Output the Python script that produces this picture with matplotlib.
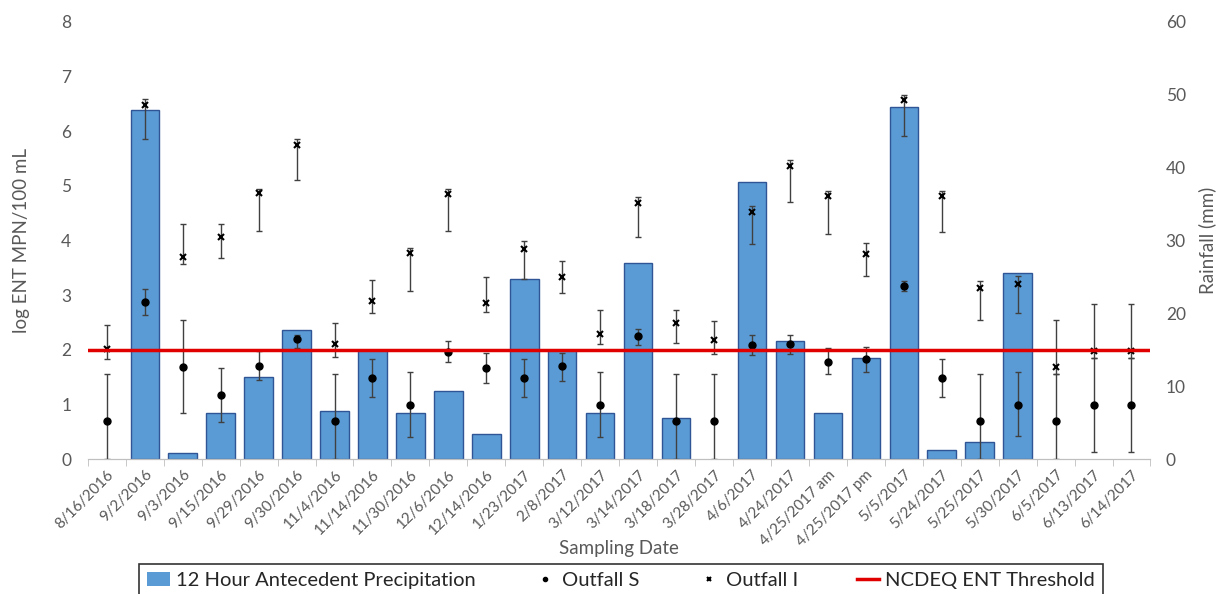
import matplotlib
matplotlib.use("Agg")
import matplotlib.pyplot as plt
import numpy as np
from matplotlib.ticker import FixedLocator

plt.rcParams["font.family"] = ["Lato", "DejaVu Sans"]

dates = ["8/16/2016", "9/2/2016", "9/3/2016", "9/15/2016", "9/29/2016", "9/30/2016",
         "11/4/2016", "11/14/2016", "11/30/2016", "12/6/2016", "12/14/2016", "1/23/2017",
         "2/8/2017", "3/12/2017", "3/14/2017", "3/18/2017", "3/28/2017", "4/6/2017",
         "4/24/2017", "4/25/2017 am", "4/25/2017 pm", "5/5/2017", "5/24/2017", "5/25/2017",
         "5/30/2017", "6/5/2017", "6/13/2017", "6/14/2017"]

# 12 hour antecedent precipitation (mm)
rain = [0, 47.9, 0.9, 6.3, 11.3, 17.7, 6.6, 15.0, 6.3, 9.3, 3.5, 24.7, 15.0, 6.3,
        26.9, 5.6, 0, 38.0, 16.2, 6.3, 13.9, 48.3, 1.2, 2.3, 25.5, 0, 0, 0]

# Outfall S: log ENT, lower / upper bound of error bar
s_val = [0.70, 2.87, 1.68, 1.18, 1.71, 2.20, 0.70, 1.48, 0.99, 1.97, 1.67, 1.48, 1.71, 0.99,
         2.25, 0.70, 0.70, 2.08, 2.11, 1.78, 1.83, 3.17, 1.48, 0.70, 0.99, 0.70, 0.99, 0.99]
s_lo = [0, 2.64, 0.84, 0.68, 1.44, 2.03, 0, 1.14, 0.40, 1.77, 1.39, 1.14, 1.43, 0.40,
        2.09, 0, 0, 1.90, 1.92, 1.55, 1.60, 3.08, 1.14, 0, 0.42, 0, 0.14, 0.14]
s_hi = [1.55, 3.11, 2.55, 1.67, 1.98, 2.28, 1.55, 1.83, 1.60, 2.17, 1.95, 1.83, 1.95, 1.60,
        2.38, 1.55, 1.55, 2.27, 2.27, 2.03, 2.06, 3.26, 1.83, 1.55, 1.60, 1.55, 1.85, 1.85]

# Outfall I
i_val = [2.01, 6.48, 3.70, 4.07, 4.87, 5.74, 2.11, 2.89, 3.77, 4.86, 2.85, 3.84, 3.33, 2.29,
         4.68, 2.50, 2.18, 4.52, 5.37, 4.82, 3.75, 6.57, 4.82, 3.13, 3.20, 1.68, 1.98, 1.98]
i_lo = [1.83, 5.86, 3.57, 3.68, 4.17, 5.11, 1.87, 2.67, 3.08, 4.17, 2.69, 3.29, 3.04, 2.11,
        4.07, 2.13, 1.92, 3.93, 4.70, 4.12, 3.36, 5.91, 4.15, 2.55, 2.68, 1.55, 1.85, 1.85]
i_hi = [2.45, 6.59, 4.30, 4.30, 4.95, 5.86, 2.49, 3.27, 3.86, 4.95, 3.34, 3.99, 3.63, 2.73,
        4.79, 2.73, 2.52, 4.64, 5.48, 4.91, 3.96, 6.67, 4.91, 3.26, 3.35, 2.55, 2.84, 2.84]

threshold = 2.0

GREY = "#595959"
x = np.arange(len(dates))

fig = plt.figure(figsize=(12.2, 5.94), dpi=100)
ax = fig.add_axes([0.072, 0.227, 0.871, 0.736])
ax2 = ax.twinx()
ax.set_zorder(ax2.get_zorder() + 1)
ax.patch.set_visible(False)
ax2.set_facecolor("#E7E6E6")

# no outline on empty (zero rain) bars
edges = ["#2F5597" if r > 0 else "none" for r in rain]
bars = ax2.bar(x, rain, width=0.75, color="#5B9BD5", edgecolor=edges, linewidth=1,
               label="12 Hour Antecedent Precipitation")
ax2.set_ylim(0, 60)
ax2.set_yticks(range(0, 61, 10))

s_err = [np.array(s_val) - np.array(s_lo), np.array(s_hi) - np.array(s_val)]
i_err = [np.array(i_val) - np.array(i_lo), np.array(i_hi) - np.array(i_val)]
ax.errorbar(x, s_val, yerr=s_err, fmt="none", ecolor="#404040", elinewidth=1, capsize=2.5)
ax.errorbar(x, i_val, yerr=i_err, fmt="none", ecolor="#404040", elinewidth=1, capsize=2.5)
hs, = ax.plot(x, s_val, "o", color="black", ms=5, ls="none", label="Outfall S")
hi, = ax.plot(x, i_val, "x", color="black", ms=5, mew=1.5, ls="none", label="Outfall I")
ht = ax.axhline(threshold, color="#E00000", lw=2.5, label="NCDEQ ENT Threshold")

ax.set_xlim(-0.5, len(dates) - 0.5)
ax.set_ylim(0, 8)
ax.set_yticks(range(0, 9))
ax.set_xticks(x)
ax.set_xticklabels(dates, rotation=45, ha="right", rotation_mode="anchor", fontsize=11, color=GREY)
ax.xaxis.set_minor_locator(FixedLocator(np.arange(-0.5, len(dates), 1)))
ax.tick_params(axis="x", which="major", length=0, pad=6)
ax.tick_params(axis="x", which="minor", length=5, color="#BFBFBF")
ax.tick_params(axis="y", length=0, labelsize=12.5, labelcolor=GREY, pad=12)
ax2.tick_params(axis="y", length=0, labelsize=12.5, labelcolor=GREY, pad=11)
for a in (ax, ax2):
    for sp in ("left", "right", "top"):
        a.spines[sp].set_visible(False)
    a.spines["bottom"].set_color("#BFBFBF")

ax.set_ylabel("log ENT MPN/100 mL", fontsize=13.5, color=GREY, labelpad=22)
ax2.set_ylabel("Rainfall (mm)", fontsize=13.5, color=GREY, labelpad=9)
ax.set_xlabel("Sampling Date", fontsize=13.5, color=GREY, labelpad=-6)

leg = fig.legend([bars, hs, hi, ht],
                 ["12 Hour Antecedent Precipitation", "Outfall S", "Outfall I", "NCDEQ ENT Threshold"],
                 loc="upper center", bbox_to_anchor=(0.509, 0.068), ncol=4, frameon=True,
                 fancybox=False, edgecolor="black", fontsize=14.5, handlelength=1.1,
                 handletextpad=0.3, columnspacing=2.9, markerscale=0.6, borderpad=0.4)
leg.get_frame().set_linewidth(1.2)
for t in leg.get_texts():
    t.set_color("#262626")

fig.savefig("out.png", dpi=100)
